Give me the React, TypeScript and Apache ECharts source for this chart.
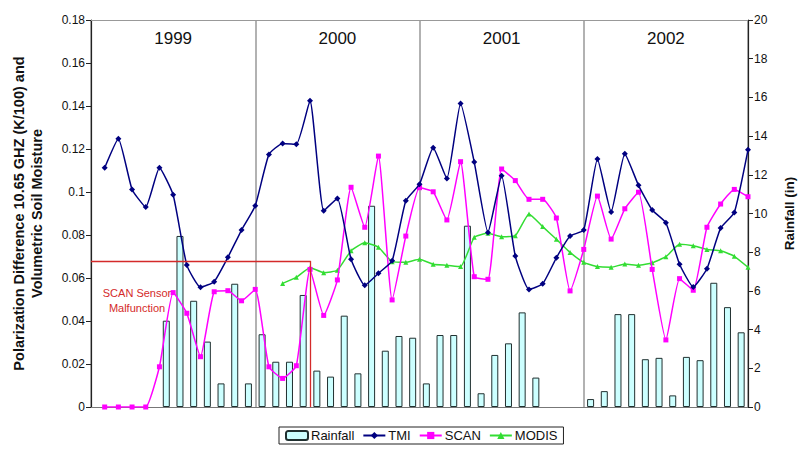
import React, { useEffect, useRef } from "react";
import * as echarts from "echarts";

const years = ["1999", "2000", "2001", "2002"];
const monthNames = ["Jan", "Feb", "Mar", "Apr", "May", "Jun", "Jul", "Aug", "Sep", "Oct", "Nov", "Dec"];
const months = years.flatMap((y) => monthNames.map((m) => `${m} ${y}`));

const rainfall = [
  null, null, null, null, null, 4.46, 8.84, 5.49, 3.38, 1.22, 6.37, 1.22,
  3.76, 2.34, 2.34, 5.79, 1.88, 1.57, 4.72, 1.74, 10.4, 2.91, 3.67, 3.58,
  1.22, 3.72, 3.72, 9.37, 0.71, 2.69, 3.29, 4.89, 1.52, null, null, null,
  0.41, 0.82, 4.8, 4.8, 2.47, 2.54, 0.6, 2.59, 2.42, 6.42, 5.16, 3.86,
];

const tmi = [
  0.1113, 0.1248, 0.1012, 0.093, 0.1113, 0.0987, 0.066, 0.0557, 0.0583, 0.0696, 0.0823, 0.0936,
  0.1175, 0.1226, 0.1222, 0.1425, 0.0913, 0.097, 0.0687, 0.0566, 0.0622, 0.068, 0.0959, 0.1036,
  0.1206, 0.1063, 0.1412, 0.1139, 0.0812, 0.1076, 0.0702, 0.0547, 0.0573, 0.0694, 0.0795, 0.0823,
  0.1153, 0.0907, 0.1178, 0.1031, 0.0916, 0.0857, 0.0664, 0.0558, 0.0643, 0.0832, 0.0905, 0.1196,
];

const scan = [
  0, 0, 0, 0, 0.0187, 0.0532, 0.0436, 0.0234, 0.0536, 0.0541, 0.0494, 0.0547,
  0.0187, 0.0133, 0.0192, 0.064, 0.0426, 0.0591, 0.1022, 0.0836, 0.1167, 0.0498, 0.0795, 0.102,
  0.1001, 0.087, 0.1141, 0.0606, 0.0594, 0.1107, 0.1053, 0.0966, 0.0966, 0.0879, 0.054, 0.0733,
  0.0981, 0.0781, 0.0922, 0.0999, 0.064, 0.0312, 0.0597, 0.0543, 0.0836, 0.0944, 0.1012, 0.0978,
];

const modis = [
  null, null, null, null, null, null, null, null, null, null, null, null,
  null, 0.0575, 0.0603, 0.0648, 0.0625, 0.0636, 0.0727, 0.0764, 0.0743, 0.0676, 0.0673, 0.0687,
  0.0664, 0.0659, 0.0653, 0.0789, 0.0808, 0.0792, 0.0797, 0.0898, 0.0839, 0.078, 0.0719, 0.0673,
  0.0653, 0.065, 0.0665, 0.0659, 0.0671, 0.0699, 0.0757, 0.075, 0.0733, 0.0727, 0.0701, 0.065,
];

// SCAN sensor malfunction period (ends at month 16), marked up to this level
const malfunctionEnd = 16;
const malfunctionLevel = 0.068;

const FONT = "Liberation Sans, Arial, sans-serif";

const toXY = (arr: (number | null)[]) =>
  arr.map((v, i) => (v === null ? [i + 1, null] : [i + 1, v]));

export default function App() {
  const ref = useRef<HTMLDivElement>(null);

  useEffect(() => {
    if (!ref.current) return;
    const chart = echarts.init(ref.current, null, { renderer: "svg" });
    const lineCommon = {
      type: "line",
      xAxisIndex: 1,
      yAxisIndex: 0,
      smooth: 0.15,
      symbolSize: 6,
      connectNulls: false,
    };
    chart.setOption({
      animation: false,
      backgroundColor: "#fff",
      textStyle: { fontFamily: FONT },
      grid: { left: 91, right: 52, top: 20, bottom: 43, containLabel: false, outerBoundsMode: "none" },
      legend: {
        bottom: 6,
        left: 279,
        data: ["Rainfall", "TMI", "SCAN", "MODIS"],
        borderColor: "#222",
        borderWidth: 1,
        borderRadius: 0,
        padding: [2, 6, 2, 6],
        itemGap: 8,
        itemWidth: 22,
        itemHeight: 9,
        textStyle: { fontSize: 13, color: "#111", fontFamily: FONT, padding: [0, 0, 0, -2] },
      },
      xAxis: [
        {
          type: "category",
          data: months,
          position: "bottom",
          boundaryGap: true,
          axisLine: { lineStyle: { color: "#777", width: 1.2 } },
          axisTick: { show: false },
          axisLabel: { show: false },
          splitLine: { show: false },
        },
        {
          type: "value",
          min: 0,
          max: 48,
          show: false,
        },
        {
          type: "category",
          data: years,
          position: "top",
          boundaryGap: true,
          axisLine: { show: true, lineStyle: { color: "#999", width: 1.2 } },
          axisTick: { show: false },
          axisLabel: {
            inside: true,
            margin: 10,
            fontSize: 17,
            color: "#111",
            fontFamily: FONT,
          },
          splitLine: { show: true, lineStyle: { color: "#999", width: 1.5 } },
        },
      ],
      yAxis: [
        {
          type: "value",
          position: "left",
          min: 0,
          max: 0.18,
          interval: 0.02,
          name: "Polarization Difference 10.65 GHZ (K/100) and\nVolumetric Soil Moisture",
          nameLocation: "middle",
          nameGap: 45,
          nameRotate: 90,
          nameTextStyle: { fontSize: 14.5, fontWeight: "bold", color: "#111", lineHeight: 18, fontFamily: FONT },
          axisLine: { show: true, lineStyle: { color: "#222", width: 1.2 } },
          axisTick: { show: true, length: 5, lineStyle: { color: "#222" } },
          axisLabel: { fontSize: 12, color: "#111", margin: 6, fontFamily: FONT },
          splitLine: { show: false },
        },
        {
          type: "value",
          position: "right",
          min: 0,
          max: 20,
          interval: 2,
          name: "Rainfall (in)",
          nameLocation: "middle",
          nameGap: 34,
          nameRotate: 90,
          nameTextStyle: { fontSize: 13.5, fontWeight: "bold", color: "#111", fontFamily: FONT },
          axisLine: { show: true, lineStyle: { color: "#222", width: 1.2 } },
          axisTick: { show: true, length: 5, lineStyle: { color: "#222" } },
          axisLabel: { fontSize: 12, color: "#111", margin: 6, fontFamily: FONT },
          splitLine: { show: false },
        },
      ],
      series: [
        {
          name: "Rainfall",
          type: "bar",
          xAxisIndex: 0,
          yAxisIndex: 1,
          barWidth: 7,
          data: rainfall,
          itemStyle: { color: "#ccffff", borderColor: "#203030", borderWidth: 1 },
          z: 1,
        },
        {
          ...lineCommon,
          name: "TMI",
          data: toXY(tmi),
          symbol: "diamond",
          symbolSize: 6,
          itemStyle: { color: "#000080" },
          lineStyle: { color: "#000080", width: 1.5 },
          z: 4,
        },
        {
          ...lineCommon,
          name: "SCAN",
          data: toXY(scan),
          symbol: "rect",
          symbolSize: 5,
          itemStyle: { color: "#ff00ff" },
          lineStyle: { color: "#ff00ff", width: 1.5 },
          z: 3,
          markLine: {
            silent: true,
            symbol: "none",
            label: { show: false },
            lineStyle: { color: "#d42a2a", width: 1.3, type: "solid" },
            data: [
              [{ coord: [0, malfunctionLevel] }, { coord: [malfunctionEnd, malfunctionLevel] }],
              [{ coord: [malfunctionEnd, malfunctionLevel] }, { coord: [malfunctionEnd, 0] }],
            ],
          },
        },
        {
          ...lineCommon,
          name: "MODIS",
          data: toXY(modis),
          symbol: "triangle",
          symbolSize: 5,
          itemStyle: { color: "#33dd33" },
          lineStyle: { color: "#33dd33", width: 1.5 },
          z: 2,
        },
      ],
      graphic: [
        {
          type: "text",
          x: 137,
          y: 285,
          style: {
            text: "SCAN Sensor\nMalfunction",
            font: `11px ${FONT}`,
            fill: "#d42a2a",
            textAlign: "center",
            lineHeight: 15,
          },
          z: 10,
        },
      ],
    });
    return () => chart.dispose();
  }, []);

  return (
    <div
      ref={ref}
      style={{ position: "fixed", left: 0, top: 0, width: 800, height: 450 }}
    />
  );
}
